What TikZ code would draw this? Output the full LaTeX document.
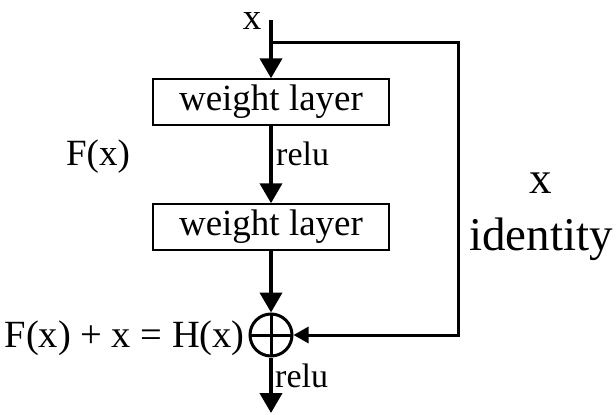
\documentclass[tikz,border=0pt]{standalone}
\usepackage{fontspec}
\setmainfont{Liberation Serif}
\usetikzlibrary{arrows.meta, positioning}

\begin{document}
\begin{tikzpicture}[
    x=1pt, y=-1pt,
    layer/.style={rectangle, draw, line width=1.5pt, minimum width=236pt,
                  minimum height=46pt, inner sep=0pt,
                  font=\fontsize{37}{40}\selectfont},
    sumnode/.style={circle, draw, line width=3pt, minimum size=42pt, inner sep=0pt,
                    path picture={\draw[line width=3pt]
                      (path picture bounding box.north) -- (path picture bounding box.south)
                      (path picture bounding box.west) -- (path picture bounding box.east);}},
    flow/.style={-{Triangle[length=20pt, width=22pt]}, line width=4pt},
    skip/.style={-{Triangle[length=15pt, width=16pt]}, line width=3pt},
    lbl/.style={inner sep=0pt, font=\fontsize{#1}{#1}\selectfont},
    lbl/.default=37
]
\useasboundingbox[fill=white] (0,0) rectangle (616,415);

% Main path
\coordinate (top) at (271,20);
\node[lbl=37, anchor=base] (xin) at (252,29) {x};
\node[layer] (w1) at (271,102) {weight layer};
\node[layer] (w2) at (271,227) {weight layer};
\node[sumnode] (add) at (271,335) {};
\coordinate (out) at (271,413);

% Labels
\node[lbl, anchor=base] (fx) at (98,165) {F(x)};
\node[lbl=34, anchor=base west] (relu1) at (276,165) {relu};
\node[lbl=34, anchor=base west] (relu2) at (275,387) {relu};
\node[lbl=38.5, anchor=base east] (hx) at (245,347) {F(x) + x = H(x)};
\node[lbl=45, anchor=base] (xid) at (541,193) {x};
\node[lbl=47, anchor=base] (ident) at (541,250) {identity};

% Shortcut
\coordinate (br) at (271,42);
\coordinate (corner) at (458,42);

% Arrows
\draw[line width=4pt] (top) -- (br);
\draw[flow] (br) -- (w1.north);
\draw[flow] (w1) -- (w2);
\draw[flow] (w2) -- (add);
\draw[flow] (add) -- (out);
\draw[skip] (br) -- (corner) |- (add.east);

\end{tikzpicture}
\end{document}
